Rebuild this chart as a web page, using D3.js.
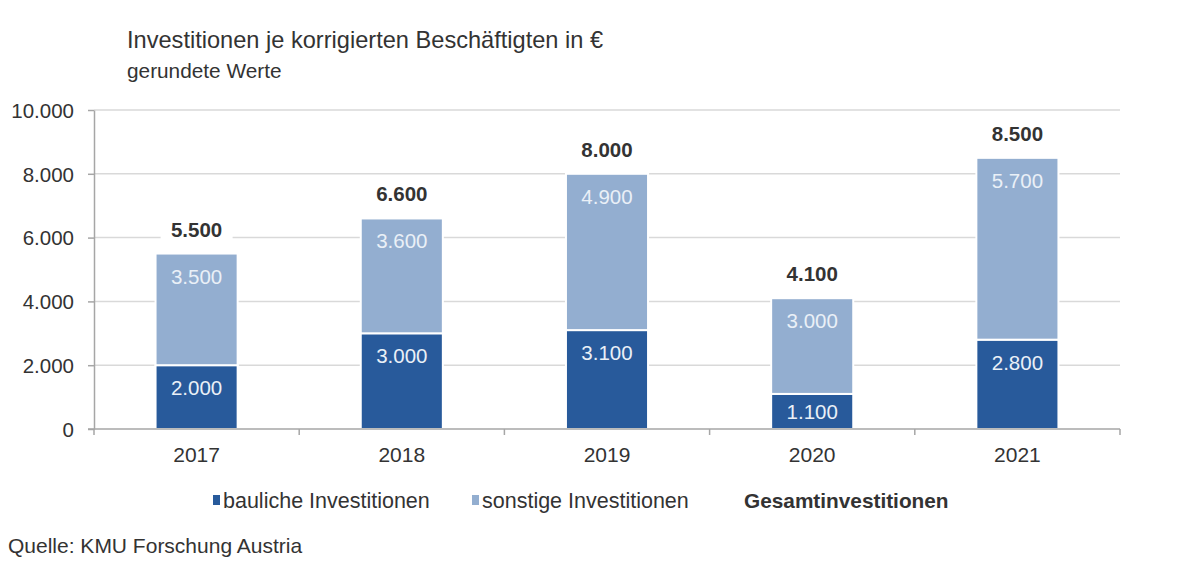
<!DOCTYPE html>
<html>
<head>
<meta charset="utf-8">
<script src="https://cdn.jsdelivr.net/npm/d3@7"></script>
<style>
  body { margin: 0; background: #fff; }
  text { font-family: "Liberation Sans", Arial, sans-serif; fill: #333; }
</style>
</head>
<body>
<div id="chart"></div>
<script>
var years = ["2017", "2018", "2019", "2020", "2021"];
var bauliche = [2000, 3000, 3100, 1100, 2800];
var sonstige = [3500, 3600, 4900, 3000, 5700];
var gesamt = [5500, 6600, 8000, 4100, 8500];
var yTicks = [0, 2000, 4000, 6000, 8000, 10000];
var seriesNames = ["bauliche Investitionen", "sonstige Investitionen", "Gesamtinvestitionen"];

var width = 1200, height = 581;
var colors = { bauliche: "#285a9b", sonstige: "#93aed0" };

var de = d3.formatLocale({ decimal: ",", thousands: ".", grouping: [3], currency: ["", " €"] });
var fmt = de.format(",d");

var svg = d3.select("#chart")
    .append("svg")
    .attr("width", width)
    .attr("height", height);

var x0 = 94, x1 = 1120, yTop = 110, yBottom = 429;

var x = d3.scaleBand()
    .domain(years)
    .range([x0, x1])
    .paddingInner(0.6)
    .paddingOuter(0.3);

var y = d3.scaleLinear()
    .domain([0, 10000])
    .range([yBottom, yTop]);

// titles
svg.append("text")
    .attr("x", 127).attr("y", 48)
    .style("font-size", "23.6px")
    .text("Investitionen je korrigierten Beschäftigten in €");
svg.append("text")
    .attr("x", 127).attr("y", 78)
    .style("font-size", "20.8px")
    .text("gerundete Werte");

// gridlines
svg.append("g").selectAll("line")
    .data(yTicks.filter(function (d) { return d > 0; }))
    .enter().append("line")
    .attr("x1", x0).attr("x2", x1)
    .attr("y1", function (d) { return y(d); })
    .attr("y2", function (d) { return y(d); })
    .attr("stroke", "#d9d9d9")
    .attr("stroke-width", 1.5);

// y axis
var yAxis = svg.append("g")
    .attr("transform", "translate(" + x0 + ",0)")
    .call(d3.axisLeft(y).tickValues(yTicks).tickFormat(fmt).tickSize(6).tickSizeOuter(0));
yAxis.select(".domain").attr("stroke", "#a6a6a6").attr("stroke-width", 1.5);
yAxis.selectAll(".tick line").attr("stroke", "#a6a6a6").attr("stroke-width", 1.5);
yAxis.selectAll(".tick text")
    .attr("x", -20)
    .attr("dy", "0.36em")
    .style("font-size", "20.5px")
    .style("font-family", "'Liberation Sans', Arial, sans-serif")
    .attr("fill", "#333");

// stacked bars
var stackData = years.map(function (yr, i) {
    return { year: yr, bauliche: bauliche[i], sonstige: sonstige[i] };
});
var stack = d3.stack().keys(["bauliche", "sonstige"])(stackData);

var layers = svg.append("g").selectAll("g")
    .data(stack)
    .enter().append("g")
    .attr("fill", function (d) { return colors[d.key]; });

layers.selectAll("rect")
    .data(function (d) { return d; })
    .enter().append("rect")
    .attr("x", function (d) { return x(d.data.year); })
    .attr("width", x.bandwidth())
    .attr("y", function (d) { return y(d[1]); })
    .attr("height", function (d) { return y(d[0]) - y(d[1]); })
    .attr("stroke", "#fff")
    .attr("stroke-width", 2);

// segment labels
layers.selectAll("text")
    .data(function (d) { return d; })
    .enter().append("text")
    .attr("x", function (d) { return x(d.data.year) + x.bandwidth() / 2; })
    .attr("y", function (d) {
        var top = y(d[1]), mid = (y(d[0]) + y(d[1])) / 2;
        return Math.min(top + 30, mid + 8);
    })
    .attr("text-anchor", "middle")
    .style("font-size", "20.5px")
    .style("fill", "#eaf0f7")
    .text(function (d) { return fmt(d[1] - d[0]); });

// x axis
var xAxis = svg.append("g");
xAxis.append("line")
    .attr("x1", x0 - 6).attr("x2", x1)
    .attr("y1", yBottom).attr("y2", yBottom)
    .attr("stroke", "#a6a6a6").attr("stroke-width", 1.5);
var bounds = years.map(function (d) { return x(d) - x.step() * x.paddingOuter(); });
bounds.push(x1);
xAxis.selectAll(".xt")
    .data(bounds)
    .enter().append("line")
    .attr("x1", function (d) { return d; }).attr("x2", function (d) { return d; })
    .attr("y1", yBottom).attr("y2", yBottom + 6)
    .attr("stroke", "#a6a6a6").attr("stroke-width", 1.5);
xAxis.selectAll("text")
    .data(years)
    .enter().append("text")
    .attr("x", function (d) { return x(d) + x.bandwidth() / 2; })
    .attr("y", 462)
    .attr("text-anchor", "middle")
    .style("font-size", "21px")
    .text(function (d) { return d; });

// total labels with white box
var totals = svg.append("g").selectAll("g")
    .data(years)
    .enter().append("g")
    .attr("transform", function (d, i) {
        return "translate(" + (x(d) + x.bandwidth() / 2) + "," + (y(gesamt[i]) - 17) + ")";
    });
totals.append("rect")
    .attr("x", -36).attr("y", -20)
    .attr("width", 72).attr("height", 26)
    .attr("fill", "#fff");
totals.append("text")
    .attr("text-anchor", "middle")
    .style("font-size", "20.5px")
    .style("font-weight", "bold")
    .text(function (d, i) { return fmt(gesamt[i]); });

// legend
var legend = svg.append("g");
var legendItems = [
    { name: seriesNames[0], color: colors.bauliche, x: 213 },
    { name: seriesNames[1], color: colors.sonstige, x: 472 },
    { name: seriesNames[2], color: null, x: 744 }
];
legendItems.forEach(function (d) {
    if (d.color) {
        legend.append("rect")
            .attr("x", d.x).attr("y", 495)
            .attr("width", 7).attr("height", 10)
            .attr("fill", d.color);
    }
    legend.append("text")
        .attr("x", d.color ? d.x + 10 : d.x)
        .attr("y", 508)
        .style("font-size", d.color ? "21.5px" : "20.8px")
        .style("font-weight", d.color ? "normal" : "bold")
        .text(d.name);
});

// source
svg.append("text")
    .attr("x", 8).attr("y", 553)
    .style("font-size", "21px")
    .text("Quelle: KMU Forschung Austria");
</script>
</body>
</html>
